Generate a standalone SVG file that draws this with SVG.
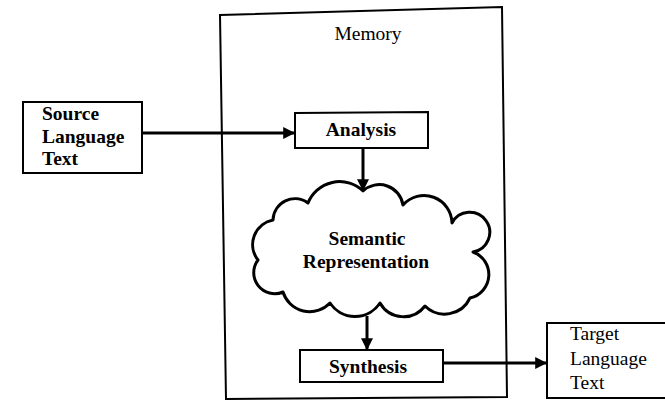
<svg xmlns="http://www.w3.org/2000/svg" width="665" height="403" viewBox="0 0 665 403">
<defs>
<style>
.box{fill:#fff;stroke:#000;stroke-width:2}
.t{font-family:"Liberation Serif","Times New Roman",serif;font-size:19.5px;fill:#000}
.b{font-weight:bold}
.ln{stroke:#000;stroke-width:3;fill:none}
</style>
<marker id="ah" viewBox="0 0 10 10" refX="9" refY="5" markerWidth="4" markerHeight="4" orient="auto" markerUnits="strokeWidth">
<path d="M0,0 L10,5 L0,10 z" fill="#000"/>
</marker>
</defs>
<rect width="665" height="403" fill="#fff"/>
<g id="memory">
<path d="M220,15 L502,7 L507,397 L226,399 Z" fill="none" stroke="#000" stroke-width="2"/>
<text class="t" x="368" y="40" text-anchor="middle">Memory</text>
</g>
<g id="source">
<rect class="box" x="23" y="102" width="119" height="71"/>
<text class="t b" x="42" y="120">Source</text>
<text class="t b" x="42" y="143">Language</text>
<text class="t b" x="42" y="165">Text</text>
</g>
<g id="analysis">
<path class="box" d="M295,113 L428,112 L428,148 L295,148 Z"/>
<text class="t b" x="361" y="136" text-anchor="middle">Analysis</text>
</g>
<g id="semantic">
<path d="M273,220 A22,22 0 0 1 308,203 A34,34 0 0 1 363,191 A24,24 0 0 1 403,205 A28,28 0 0 1 452,223 A20,20 0 1 1 473,252 A24,24 0 0 1 470,298 A28,28 0 0 1 425,306 A27,27 0 0 1 380,303 A30,30 0 0 1 330,303 A28,28 0 0 1 283,292 A21,21 0 0 1 258,260 A25,25 0 0 1 273,220 Z" fill="#fff" stroke="#000" stroke-width="3" stroke-linejoin="round"/>
<text class="t b" x="367" y="245" text-anchor="middle">Semantic</text>
<text class="t b" x="366" y="268" text-anchor="middle">Representation</text>
</g>
<g id="synthesis">
<rect class="box" x="300" y="350" width="143" height="32"/>
<text class="t b" x="368" y="373" text-anchor="middle">Synthesis</text>
</g>
<g id="target">
<rect class="box" x="547" y="323" width="130" height="75"/>
<text class="t" x="570" y="340">Target</text>
<text class="t" x="570" y="365">Language</text>
<text class="t" x="570" y="389">Text</text>
</g>
<g id="connectors">
<line class="ln" x1="142" y1="133" x2="294" y2="133" marker-end="url(#ah)"/>
<line class="ln" x1="363" y1="148" x2="363" y2="190" marker-end="url(#ah)"/>
<line class="ln" x1="367" y1="316" x2="367" y2="349" marker-end="url(#ah)"/>
<line class="ln" x1="443" y1="363" x2="546" y2="363" marker-end="url(#ah)"/>
</g>
</svg>
